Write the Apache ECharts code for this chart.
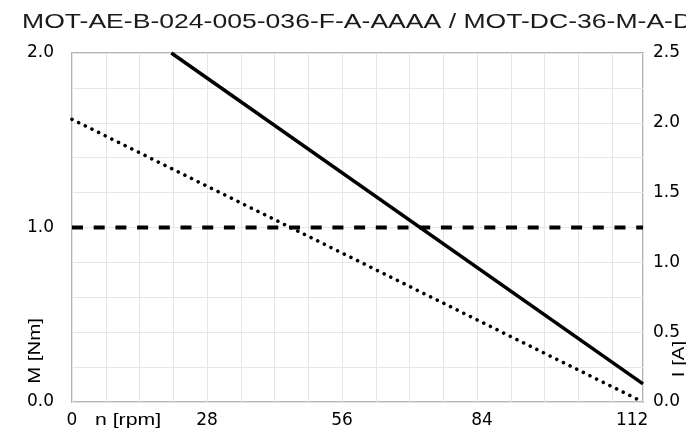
<!DOCTYPE html>
<html>
<head>
<meta charset="utf-8">
<script src="https://cdn.jsdelivr.net/npm/echarts@6/dist/echarts.min.js"></script>
<style>
html,body{margin:0;padding:0;background:#fff;}
#chart{width:686px;height:437px;}
</style>
</head>
<body>
<div id="chart"></div>
<script>
// ---- data ----
var titleText = 'MOT-AE-B-024-005-036-F-A-AAAA / MOT-DC-36-M-A-D';
var xName = 'n [rpm]';
var leftName = 'M [Nm]';
var rightName = 'I [A]';
var xMax = 118.4;                 // no-load speed (right edge of plot)
var xTickLabels = [0, 28, 56, 84, 112];
var leftTickLabels = [0.0, 1.0, 2.0];
var rightTickLabels = [0.0, 0.5, 1.0, 1.5, 2.0, 2.5];

// torque vs speed (dotted, left axis)
var torqueRpm = [0, 118.4];
var torqueNm  = [1.62, 0.0];
// rated torque (dashed, left axis)
var ratedRpm = [0, 118.4];
var ratedNm  = [1.0, 1.0];
// current vs speed (solid, right axis)
var currentRpm = [20.6, 118.4];
var currentA   = [2.5, 0.13];

function zip(a, b) { return a.map(function (v, i) { return [v, b[i]]; }); }

var labelFont = 'DejaVu Sans';
var textFont = 'Liberation Sans';
var labelSize = 17;
var ink = '#000';

var chart = echarts.init(document.getElementById('chart'), null, {renderer: 'canvas'});
chart.setOption({
  animation: false,
  backgroundColor: '#fff',
  grid: {left: 72, right: 43, top: 53, bottom: 35, show: true,
         borderColor: '#b4b4b4', borderWidth: 2, backgroundColor: 'transparent'},
  xAxis: {
    type: 'value', min: 0, max: xMax, interval: 7,
    axisLine: {show: false}, axisTick: {show: false},
    splitLine: {show: true, lineStyle: {color: '#e6e6e6', width: 1}},
    axisLabel: {
      margin: 10, color: ink, fontFamily: labelFont, fontSize: labelSize,
      showMaxLabel: false,
      formatter: function (v) {
        if (xTickLabels.indexOf(v) < 0) return '';
        if (v === 112) return '{r|' + v + '}';
        if (v === 84) return '{s|' + v + '}';
        return String(v);
      },
      rich: {
        r: {padding: [0, 0, 0, 40], fontFamily: labelFont, fontSize: labelSize, color: ink},
        s: {padding: [0, 0, 0, 10], fontFamily: labelFont, fontSize: labelSize, color: ink}
      }
    }
  },
  yAxis: [{
    type: 'value', min: 0, max: 2, interval: 0.2, position: 'left',
    axisLine: {show: false}, axisTick: {show: false},
    splitLine: {show: true, lineStyle: {color: '#e6e6e6', width: 1}},
    axisLabel: {
      margin: 18, color: ink, fontFamily: labelFont, fontSize: labelSize,
      formatter: function (v) {
        for (var i = 0; i < leftTickLabels.length; i++) {
          if (Math.abs(leftTickLabels[i] - v) < 1e-6) return leftTickLabels[i].toFixed(1);
        }
        return '';
      }
    }
  }, {
    type: 'value', min: 0, max: 2.5, interval: 0.25, position: 'right',
    axisLine: {show: false}, axisTick: {show: false}, splitLine: {show: false},
    axisLabel: {
      margin: 10, color: ink, fontFamily: labelFont, fontSize: labelSize,
      formatter: function (v) {
        for (var i = 0; i < rightTickLabels.length; i++) {
          if (Math.abs(rightTickLabels[i] - v) < 1e-6) return rightTickLabels[i].toFixed(1);
        }
        return '';
      }
    }
  }],
  series: [{
    type: 'line', yAxisIndex: 0, data: zip(torqueRpm, torqueNm), symbol: 'none',
    lineStyle: {color: '#000', width: 3.6, type: [0.01, 7.4], cap: 'round'}
  }, {
    type: 'line', yAxisIndex: 0, data: zip(ratedRpm, ratedNm), symbol: 'none',
    lineStyle: {color: '#000', width: 4, type: [11, 10.7], cap: 'butt'}
  }, {
    type: 'line', yAxisIndex: 1, data: zip(currentRpm, currentA), symbol: 'none',
    lineStyle: {color: '#000', width: 3.5, type: 'solid'}
  }],
  graphic: [{
    type: 'text', x: 22, y: 22, scaleX: 1.265, silent: true,
    style: {text: titleText, fontFamily: textFont, fontSize: 21, fill: '#1a1a1a',
            align: 'left', verticalAlign: 'middle'}
  }, {
    type: 'text', x: 128, y: 420, scaleX: 1.25, silent: true,
    style: {text: xName, fontFamily: textFont, fontSize: 17, fill: ink,
            align: 'center', verticalAlign: 'middle'}
  }, {
    type: 'text', x: 35, y: 351, rotation: Math.PI / 2, scaleX: 1.2, silent: true,
    style: {text: leftName, fontFamily: textFont, fontSize: 17, fill: ink,
            align: 'center', verticalAlign: 'middle'}
  }, {
    type: 'text', x: 679, y: 359, rotation: Math.PI / 2, scaleX: 1.2, silent: true,
    style: {text: rightName, fontFamily: textFont, fontSize: 17, fill: ink,
            align: 'center', verticalAlign: 'middle'}
  }]
});
</script>
</body>
</html>
